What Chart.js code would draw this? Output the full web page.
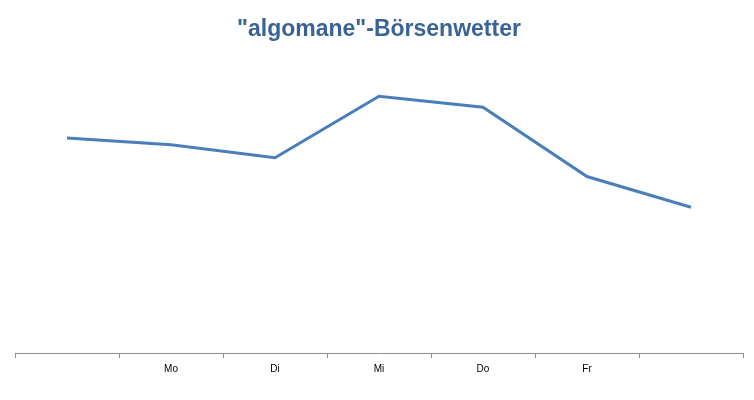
<!DOCTYPE html>
<html>
<head>
<meta charset="utf-8">
<script src="https://cdn.jsdelivr.net/npm/chart.js@4"></script>
<style>
  html, body { margin: 0; padding: 0; background: #fff; }
  #wrap { width: 754px; height: 400px; }
</style>
</head>
<body>
<div id="wrap"><canvas id="wetter"></canvas></div>
<script>
// categories (first and last slot have no label)
var days = ['', 'Mo', 'Di', 'Mi', 'Do', 'Fr', ''];
// values
var kurs = [217, 210, 197, 259, 248, 178, 147];

var ctx = document.getElementById('wetter').getContext('2d');
var myChart = new Chart(ctx, {
    type: 'line',
    data: {
        labels: days,
        datasets: [{
            label: 'Börsenwetter',
            data: kurs,
            borderColor: '#4a7ebb',
            borderWidth: 3,
            pointRadius: 0,
            tension: 0,
            fill: false
        }]
    },
    options: {
        responsive: true,
        maintainAspectRatio: false,
        animation: false,
        layout: {
            padding: { left: 15, right: 11, bottom: 20, top: 0 }
        },
        plugins: {
            legend: { display: false },
            tooltip: { enabled: false },
            title: {
                display: true,
                text: '"algomane"-Börsenwetter',
                color: '#3a6496',
                font: { family: 'Liberation Sans', size: 23, weight: 'bold' },
                padding: { top: 16, bottom: 12 }
            }
        },
        scales: {
            x: {
                offset: true,
                grid: {
                    offset: true,
                    drawOnChartArea: false,
                    drawTicks: true,
                    tickLength: 5,
                    color: '#8c8c8c'
                },
                border: { display: true, color: '#8c8c8c', width: 1 },
                ticks: {
                    color: '#000',
                    padding: 5,
                    maxRotation: 0,
                    autoSkip: false,
                    font: { family: 'Liberation Sans', size: 10 }
                }
            },
            y: {
                display: false,
                min: 0,
                max: 300
            }
        }
    }
});
</script>
</body>
</html>
